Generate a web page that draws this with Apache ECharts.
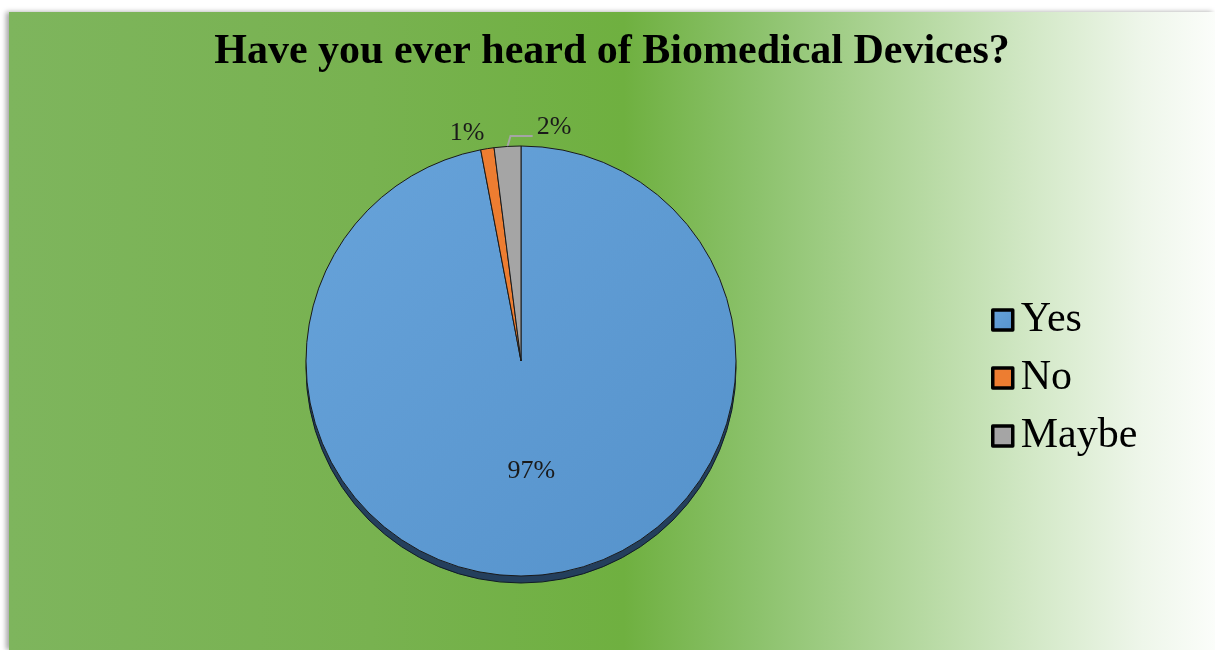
<!DOCTYPE html>
<html>
<head>
<meta charset="utf-8">
<script src="https://cdn.jsdelivr.net/npm/echarts@6/dist/echarts.min.js"></script>
<style>
html,body{margin:0;padding:0;background:#fff;width:1215px;height:650px;overflow:hidden;}
#bg{position:absolute;left:9px;top:12px;width:1206px;height:638px;
background:linear-gradient(to right,#7eb55d 0%,#78b250 30%,#6fb040 51%,#8cc26c 62%,#b4d89f 75%,#d6eacb 86%,#eef6ea 94%,#fbfdfa 100%);
box-shadow:-3px 0 5px rgba(0,0,0,0.35);}
#chart{position:absolute;left:9px;top:12px;width:1206px;height:638px;}
</style>
</head>
<body>
<div id="bg"></div>
<div id="chart"></div>
<script>
const titleText = 'Have you ever heard of Biomedical Devices?';
const categories = ['Yes', 'No', 'Maybe'];
const values = [97, 1, 2];
const colors = ['#5b9bd5', '#ed7d31', '#a5a5a5'];

const chart = echarts.init(document.getElementById('chart'), null, {renderer: 'canvas'});
const serif = '"Liberation Serif", "Times New Roman", serif';

const labelPos = {
  1: {x: 458, y: 121},
  2: {x: 545, y: 115}
};
const CENTER = [512, 349];
const R = 215;

chart.setOption({
  backgroundColor: 'transparent',
  animation: false,
  title: {
    text: titleText,
    left: 'center',
    top: 14,
    textStyle: {fontFamily: serif, fontWeight: 'bold', fontSize: 42, color: '#000'}
  },
  legend: {
    orient: 'vertical',
    left: 977,
    top: 282,
    itemWidth: 20,
    itemHeight: 20,
    itemGap: 16,
    icon: 'rect',
    data: categories,
    itemStyle: {borderColor: '#000', borderWidth: 3.5, borderJoin: 'round'},
    textStyle: {fontFamily: serif, fontSize: 42, lineHeight: 42, color: '#000', padding: [0, 0, 0, 3]}
  },
  series: [{
    type: 'pie',
    name: 'main',
    z: 3,
    center: CENTER,
    radius: R,
    startAngle: 90,
    clockwise: true,
    data: categories.map((c, i) => ({
      name: c,
      value: values[i],
      itemStyle: {
        color: i === 0 ? new echarts.graphic.LinearGradient(0, 0, 1, 1, [
          {offset: 0, color: '#67a3da'},
          {offset: 1, color: '#5592cb'}
        ]) : colors[i]
      },
      label: i === 0 ? {position: 'inside'} : {position: 'outside'},
      labelLine: i === 2 ? {show: true, length: 8, length2: 10, lineStyle: {color: '#a5a5a5', width: 2}} : {show: false}
    })),
    itemStyle: {
      borderColor: '#1a1a1a',
      borderWidth: 1
    },
    emphasis: {disabled: true},
    label: {
      show: true,
      formatter: p => p.value + '%',
      fontFamily: serif,
      fontSize: 26,
      color: '#1a1a1a'
    },
    labelLayout: function (params) {
      const p = labelPos[params.dataIndex];
      if (!p) return {};
      const out = {x: p.x, y: p.y, align: 'center', verticalAlign: 'middle'};
      if (params.labelLinePoints && params.labelLinePoints.length) {
        const p0 = params.labelLinePoints[0];
        const w = params.labelRect.width;
        out.labelLinePoints = [
          [p0[0], p0[1]],
          [p0[0] + 3, p.y + 9],
          [p.x - w / 2 - 4, p.y + 9]
        ];
      }
      return out;
    }
  }, {
    type: 'pie',
    name: 'depth',
    z: 1,
    silent: true,
    center: [CENTER[0], CENTER[1] + 7],
    radius: R,
    startAngle: 90,
    clockwise: true,
    legendHoverLink: false,
    data: values.map((v, i) => ({name: 'd' + i, value: v})),
    itemStyle: {color: '#243f5c', borderColor: '#101a26', borderWidth: 1},
    label: {show: false},
    labelLine: {show: false},
    emphasis: {disabled: true}
  }]
});
</script>
</body>
</html>
